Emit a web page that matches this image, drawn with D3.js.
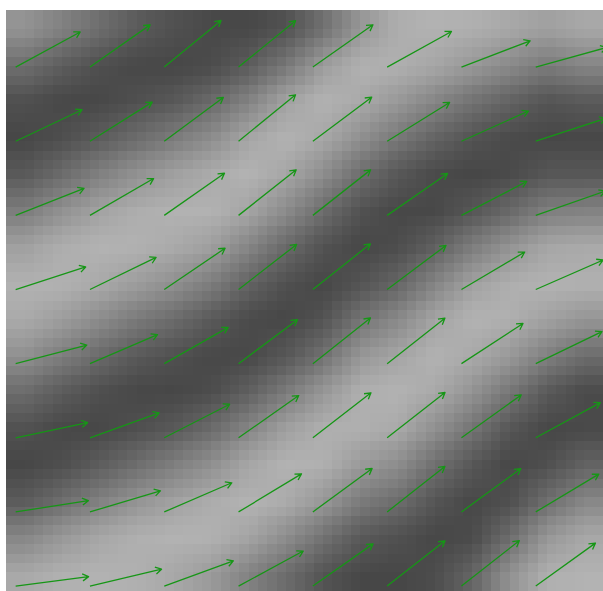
<!DOCTYPE html>
<html>
<head>
<meta charset="utf-8">
<script src="https://cdn.jsdelivr.net/npm/d3@7"></script>
<style>
  body { margin: 0; background: #ffffff; }
  svg { display: block; }
</style>
</head>
<body>
<svg id="chart" width="603" height="591"></svg>
<script>
// shade of the background, read on a 16 x 16 grid (0 = dark, 1 = light)
// each list is one column, left to right, values from top to bottom
const shadeByColumn = [
  [0.71, 0.36, 0.08, 0.00, 0.17, 0.50, 0.82, 0.99, 0.93, 0.68, 0.35, 0.09, 0.00, 0.19, 0.58, 0.91],
  [0.55, 0.20, 0.01, 0.07, 0.34, 0.69, 0.95, 0.99, 0.81, 0.50, 0.19, 0.01, 0.07, 0.37, 0.75, 0.98],
  [0.37, 0.07, 0.01, 0.20, 0.53, 0.85, 1.00, 0.92, 0.65, 0.32, 0.07, 0.01, 0.20, 0.55, 0.89, 1.00],
  [0.19, 0.01, 0.08, 0.35, 0.69, 0.95, 0.99, 0.80, 0.48, 0.17, 0.01, 0.08, 0.36, 0.72, 0.97, 0.97],
  [0.09, 0.00, 0.17, 0.50, 0.82, 0.99, 0.93, 0.68, 0.34, 0.08, 0.00, 0.18, 0.52, 0.84, 1.00, 0.90],
  [0.02, 0.05, 0.32, 0.66, 0.93, 0.99, 0.82, 0.50, 0.18, 0.01, 0.06, 0.34, 0.68, 0.94, 0.99, 0.78],
  [0.01, 0.20, 0.56, 0.89, 1.00, 0.87, 0.58, 0.26, 0.04, 0.02, 0.23, 0.58, 0.88, 1.00, 0.87, 0.55],
  [0.10, 0.46, 0.85, 1.00, 0.89, 0.63, 0.32, 0.08, 0.00, 0.16, 0.48, 0.83, 1.00, 0.93, 0.66, 0.34],
  [0.38, 0.81, 1.00, 0.90, 0.66, 0.35, 0.11, 0.00, 0.11, 0.40, 0.74, 0.97, 0.97, 0.75, 0.41, 0.12],
  [0.73, 0.99, 0.92, 0.68, 0.36, 0.10, 0.00, 0.12, 0.42, 0.75, 0.97, 0.97, 0.78, 0.48, 0.18, 0.01],
  [0.95, 0.97, 0.76, 0.45, 0.16, 0.01, 0.06, 0.29, 0.61, 0.88, 1.00, 0.92, 0.66, 0.35, 0.09, 0.00],
  [1.00, 0.88, 0.58, 0.26, 0.04, 0.02, 0.23, 0.57, 0.87, 1.00, 0.92, 0.68, 0.38, 0.13, 0.00, 0.06],
  [0.97, 0.75, 0.41, 0.11, 0.00, 0.15, 0.50, 0.84, 1.00, 0.92, 0.71, 0.42, 0.16, 0.01, 0.04, 0.28],
  [0.90, 0.61, 0.26, 0.03, 0.04, 0.32, 0.70, 0.96, 0.97, 0.76, 0.44, 0.14, 0.00, 0.08, 0.35, 0.69],
  [0.82, 0.47, 0.13, 0.00, 0.15, 0.53, 0.88, 1.00, 0.84, 0.52, 0.18, 0.00, 0.08, 0.37, 0.74, 0.97],
  [0.90, 0.57, 0.18, 0.00, 0.15, 0.56, 0.92, 0.98, 0.73, 0.34, 0.04, 0.03, 0.26, 0.60, 0.90, 1.00]
];

// arrow grid (in cell units) and arrow directions in degrees, one list per row
const arrowCols = [0.13, 1.13, 2.13, 3.13, 4.13, 5.13, 6.13, 7.13];
const arrowRows = [0.77, 1.77, 2.77, 3.77, 4.77, 5.77, 6.77, 7.77];
const angleRow1 = [28.6, 35.1, 39.4, 39.2, 35.2, 29.0, 21.0, 15.5];
const angleRow2 = [25.4, 32.2, 36.6, 39.2, 36.9, 31.9, 24.3, 18.1];
const angleRow3 = [21.6, 30.1, 35.0, 38.4, 38.3, 34.8, 27.5, 19.3];
const angleRow4 = [17.9, 25.9, 34.2, 37.9, 38.5, 36.9, 30.7, 23.7];
const angleRow5 = [14.7, 23.3, 29.6, 36.8, 38.5, 38.3, 33.2, 25.9];
const angleRow6 = [11.9, 19.8, 27.2, 35.1, 37.8, 38.1, 35.7, 28.6];
const angleRow7 = [8.8, 16.7, 23.4, 31.2, 36.3, 38.3, 36.2, 31.0];
const angleRow8 = [7.4, 13.3, 20.1, 28.5, 35.1, 38.1, 38.2, 35.8];
const magnitude = 0.99;

const angles = [angleRow1, angleRow2, angleRow3, angleRow4, angleRow5, angleRow6, angleRow7, angleRow8];

const svg = d3.select('#chart');
const margin = { left: 6, top: 10 };
const plotW = 597, plotH = 581;

const x = d3.scaleLinear().domain([0, 8]).range([margin.left, margin.left + 8 * 74.3]);
const y = d3.scaleLinear().domain([0, 8]).range([margin.top, margin.top + 8 * 74.14]);
const gray = d3.scaleLinear().domain([0, 1]).range(['#474747', '#b3b3b3']);

// background raster: samples -> small canvas -> blocky 64 x 62 cells
const rows = d3.transpose(shadeByColumn);
const nx = rows[0].length, ny = rows.length;
const small = document.createElement('canvas');
small.width = nx;
small.height = ny;
const sctx = small.getContext('2d');
const imgData = sctx.createImageData(nx, ny);
rows.forEach((r, j) => {
  r.forEach((v, i) => {
    const c = d3.rgb(gray(v));
    const k = (j * nx + i) * 4;
    imgData.data[k] = c.r;
    imgData.data[k + 1] = c.g;
    imgData.data[k + 2] = c.b;
    imgData.data[k + 3] = 255;
  });
});
sctx.putImageData(imgData, 0, 0);

const big = document.createElement('canvas');
big.width = 64;
big.height = 62;
const bctx = big.getContext('2d');
bctx.imageSmoothingEnabled = true;
bctx.drawImage(small, 0, 0, big.width, big.height);

svg.append('image')
  .attr('x', margin.left)
  .attr('y', margin.top)
  .attr('width', plotW)
  .attr('height', plotH)
  .attr('preserveAspectRatio', 'none')
  .style('image-rendering', 'pixelated')
  .attr('href', big.toDataURL());

// arrows
const arrows = [];
angles.forEach((row, j) => {
  row.forEach((a, i) => arrows.push({ cx: arrowCols[i], cy: arrowRows[j], a: a }));
});

const headLen = 7;
const spread = 30 * Math.PI / 180;

svg.append('g')
  .attr('class', 'arrows')
  .selectAll('path')
  .data(arrows)
  .join('path')
  .attr('fill', 'none')
  .attr('stroke', '#169616')
  .attr('stroke-width', 1.3)
  .attr('stroke-linejoin', 'round')
  .attr('d', d => {
    const t = d.a * Math.PI / 180;
    const x0 = x(d.cx), y0 = y(d.cy);
    const x1 = x(d.cx + magnitude * Math.cos(t));
    const y1 = y(d.cy - magnitude * Math.sin(t));
    const ang = Math.atan2(y1 - y0, x1 - x0);
    const b1x = x1 - headLen * Math.cos(ang - spread), b1y = y1 - headLen * Math.sin(ang - spread);
    const b2x = x1 - headLen * Math.cos(ang + spread), b2y = y1 - headLen * Math.sin(ang + spread);
    return `M${x0},${y0}L${x1},${y1}M${b1x},${b1y}L${x1},${y1}L${b2x},${b2y}`;
  });
</script>
</body>
</html>
